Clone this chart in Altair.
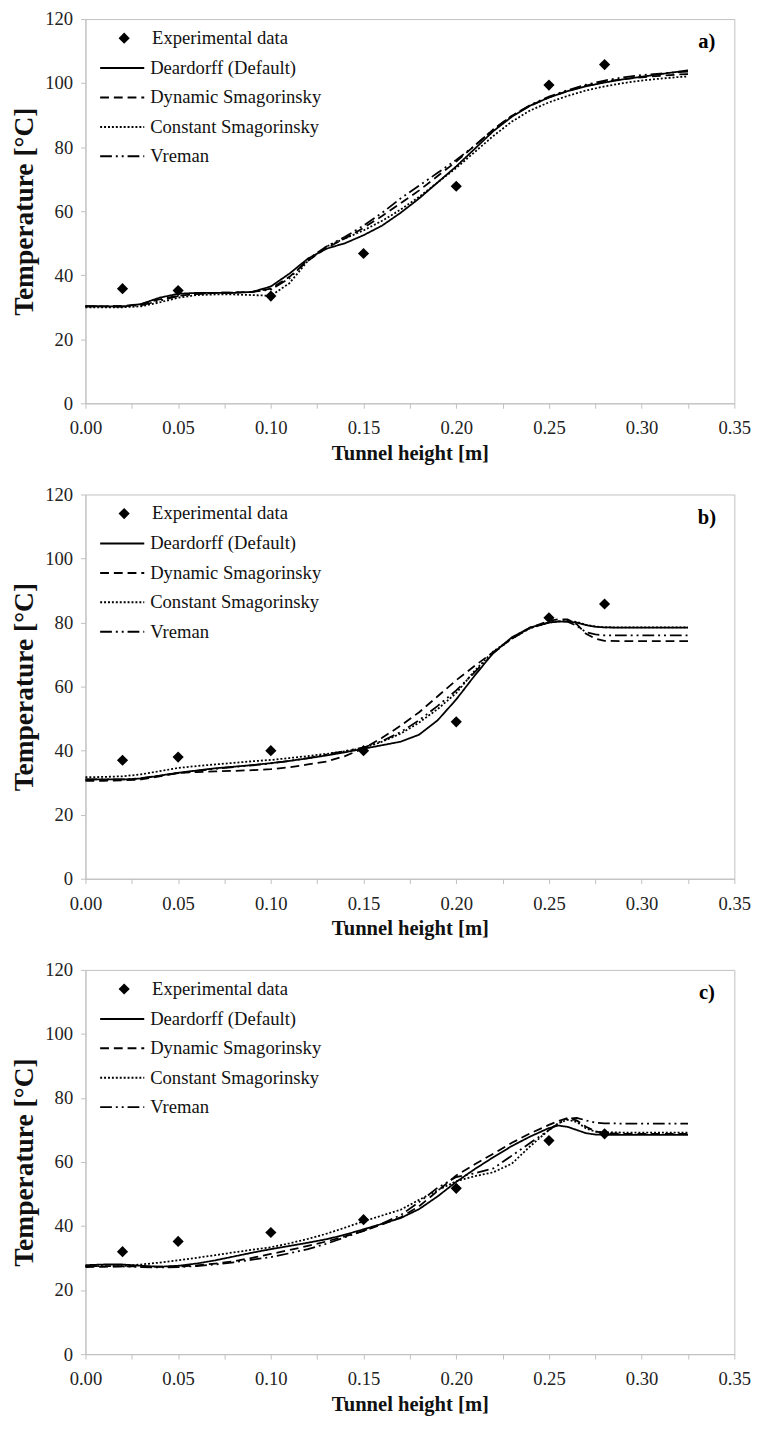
import altair as alt
import pandas as pd

MODELS = ["Deardorff (Default)", "Dynamic Smagorinsky", "Constant Smagorinsky", "Vreman"]
DASHES = [[1, 0], [9, 5], [2, 2], [12, 4, 2, 4, 2, 4]]
EXP_NAME = "Experimental data"

X_EXP = [0.02, 0.05, 0.10, 0.15, 0.20, 0.25, 0.28]
EXP_A = [35.8, 35.2, 33.5, 46.8, 67.8, 99.4, 105.8]
EXP_B = [37.0, 38.0, 40.0, 40.0, 49.0, 81.5, 85.8]
EXP_C = [32.0, 35.2, 38.0, 42.0, 51.8, 66.7, 68.8]

XA = [0, 0.01, 0.02, 0.03, 0.04, 0.05, 0.06, 0.07, 0.08, 0.09, 0.10, 0.11, 0.12, 0.13, 0.14,
      0.15, 0.16, 0.17, 0.18, 0.19, 0.20, 0.21, 0.22, 0.23, 0.24, 0.25, 0.26, 0.27, 0.28, 0.29,
      0.30, 0.31, 0.32, 0.325]
DEAR_A = [30.4, 30.3, 30.2, 31.0, 33.0, 34.2, 34.5, 34.5, 34.5, 34.8, 36.5, 40.5, 45.2, 48.3, 50.0,
          52.5, 55.5, 59.5, 64.0, 69.0, 74.0, 79.5, 85.0, 89.5, 93.0, 95.5, 97.5, 99.0, 100.2, 101.2,
          102.0, 102.8, 103.6, 104.0]
DYN_A = [30.3, 30.3, 30.4, 31.0, 32.5, 33.6, 34.2, 34.5, 34.6, 34.8, 35.8, 39.5, 44.5, 48.5, 51.5,
         54.8, 58.5, 62.5, 66.5, 71.0, 75.5, 80.5, 85.5, 89.8, 93.0, 95.5, 97.5, 99.2, 100.5, 101.2,
         101.8, 102.3, 102.7, 102.8]
CONST_A = [30.0, 30.0, 30.0, 30.3, 31.5, 33.0, 33.8, 34.0, 34.0, 33.8, 33.6, 37.5, 44.5, 49.0, 51.5,
           54.0, 57.0, 60.5, 64.5, 69.0, 73.5, 78.5, 83.5, 88.0, 91.5, 94.0, 96.0, 97.7, 99.0, 100.0,
           100.8, 101.4, 101.9, 102.1]
VRE_A = [30.3, 30.3, 30.3, 30.6, 32.0, 33.5, 34.2, 34.5, 34.6, 34.8, 35.5, 39.0, 45.0, 49.0, 52.0,
         55.5, 59.5, 64.0, 68.0, 72.0, 76.0, 80.5, 85.5, 89.8, 93.2, 95.8, 97.8, 99.5, 100.8, 101.8,
         102.5, 103.0, 103.4, 103.6]

XB = [0, 0.01, 0.02, 0.03, 0.04, 0.05, 0.06, 0.07, 0.08, 0.09, 0.10, 0.11, 0.12, 0.13, 0.14,
      0.15, 0.16, 0.17, 0.18, 0.19, 0.20, 0.21, 0.22, 0.23, 0.24, 0.25, 0.255, 0.26, 0.265, 0.27,
      0.275, 0.28, 0.29, 0.30, 0.31, 0.32, 0.325]
DEAR_B = [31.0, 31.0, 31.0, 31.3, 32.2, 33.1, 33.8, 34.5, 35.0, 35.5, 36.1, 36.8, 37.6, 38.5, 39.5,
          40.6, 41.7, 42.8, 45.0, 49.5, 56.0, 63.5, 70.5, 75.4, 78.5, 80.0, 80.3, 80.3, 80.0, 79.2,
          78.7, 78.5, 78.4, 78.4, 78.4, 78.4, 78.4]
DYN_B = [30.6, 30.6, 30.7, 31.0, 32.0, 33.0, 33.3, 33.5, 33.7, 33.9, 34.2, 34.8, 35.7, 36.6, 38.3,
         40.7, 44.0, 47.8, 52.0, 57.0, 62.0, 66.5, 70.8, 75.0, 78.5, 80.5, 81.0, 81.0, 79.5, 76.5,
         75.0, 74.3, 74.2, 74.2, 74.2, 74.2, 74.2]
CONST_B = [31.7, 31.8, 32.0, 32.6, 33.6, 34.6, 35.2, 35.7, 36.2, 36.7, 37.1, 37.7, 38.3, 39.0, 39.8,
           40.8, 42.8, 45.3, 48.8, 53.0, 58.0, 65.0, 71.0, 75.0, 78.3, 80.0, 80.4, 80.5, 80.2, 79.3,
           78.8, 78.5, 78.5, 78.5, 78.5, 78.5, 78.5]
VRE_B = [31.0, 31.0, 31.0, 31.4, 32.2, 33.0, 33.7, 34.3, 34.9, 35.4, 36.0, 36.8, 37.7, 38.8, 39.9,
         41.0, 43.0, 45.8, 49.5, 54.0, 58.8, 64.5, 70.5, 75.0, 78.3, 80.0, 80.4, 80.3, 79.0, 77.0,
         76.3, 76.0, 76.0, 76.0, 76.0, 76.0, 76.0]

XC = XB
DEAR_C = [27.8, 28.0, 28.0, 27.6, 27.3, 27.6, 28.3, 29.3, 30.5, 31.7, 32.8, 33.8, 34.8, 35.9, 37.3,
          39.0, 40.7, 42.5, 45.3, 49.3, 53.8, 57.8, 61.5, 65.0, 68.0, 70.6, 71.4, 71.0, 70.0, 69.0,
          68.6, 68.5, 68.5, 68.5, 68.5, 68.5, 68.5]
DYN_C = [27.2, 27.3, 27.4, 27.4, 27.3, 27.4, 27.7, 28.3, 29.0, 30.1, 31.3, 32.5, 33.8, 35.2, 36.8,
         38.5, 40.5, 42.7, 46.2, 51.0, 55.8, 59.3, 62.6, 66.0, 69.0, 71.6, 72.8, 73.7, 73.0, 71.0,
         69.6, 69.0, 68.8, 68.8, 68.8, 68.8, 68.8]
CONST_C = [27.5, 27.5, 27.5, 28.0, 28.6, 29.3, 30.1, 30.9, 31.8, 32.6, 33.4, 34.6, 36.0, 37.6, 39.5,
           41.5, 43.3, 45.1, 48.2, 51.2, 54.0, 55.6, 56.8, 59.5, 65.0, 70.0, 72.1, 73.2, 72.5, 70.5,
           69.5, 69.3, 69.2, 69.2, 69.2, 69.2, 69.2]
VRE_C = [27.5, 27.5, 27.4, 27.2, 27.1, 27.2, 27.5, 28.0, 28.7, 29.5, 30.3, 31.5, 32.8, 34.5, 36.5,
         38.5, 40.8, 43.4, 47.5, 52.0, 55.3, 56.5, 58.0, 62.0, 66.0, 70.0, 72.0, 73.5, 73.8, 73.0,
         72.3, 72.1, 72.0, 72.0, 72.0, 72.0, 72.0]

X_TICKS = [round(i * 0.025, 3) for i in range(15)]
Y_TICKS = list(range(0, 121, 10))
FONT = "Liberation Serif"
GRAY = "#bfbfbf"
W, H = 662, 392


def panel(tag, xs, curves, exp_y):
    rows = []
    for m, ys in zip(MODELS, curves):
        for xi, yi in zip(xs, ys):
            rows.append({"h": xi, "T": yi, "model": m})
    df = pd.DataFrame(rows)
    dfe = pd.DataFrame({"h": X_EXP, "T": exp_y, "series": [EXP_NAME] * len(X_EXP)})

    xenc = alt.X("h:Q", scale=alt.Scale(domain=[0, 0.35], nice=False, zero=False),
                 axis=alt.Axis(values=X_TICKS, title="Tunnel height [m]",
                               labelExpr="round(datum.value*40) % 2 == 0 ? format(datum.value, '.2f') : ''",
                               labelFlush=False, labelOverlap=False, labelPadding=11,
                               titlePadding=5, titleFontSize=21))
    yenc = alt.Y("T:Q", scale=alt.Scale(domain=[0, 120], nice=False),
                 axis=alt.Axis(values=Y_TICKS, title="Temperature [°C]",
                               labelExpr="datum.value % 20 == 0 ? datum.label : ''",
                               labelOverlap=False, labelPadding=8, titlePadding=6,
                               titleFontSize=28))

    lines = alt.Chart(df).mark_line(color="black", strokeWidth=1.8).encode(
        x=xenc, y=yenc,
        strokeDash=alt.StrokeDash(
            "model:N",
            scale=alt.Scale(domain=MODELS, range=DASHES),
            legend=alt.Legend(title=None, orient="none", legendX=14, legendY=35,
                              symbolType="stroke", symbolSize=2025, symbolStrokeWidth=2,
                              symbolStrokeColor="black", labelOffset=5, rowPadding=0,
                              clipHeight=30,
                              labelFont=FONT, labelFontSize=19, labelColor="#111",
                              labelLimit=400, padding=0),
        ),
    )
    points = alt.Chart(dfe).mark_point(filled=True, color="black", size=130, opacity=1).encode(
        x="h:Q", y="T:Q",
        shape=alt.Shape(
            "series:N",
            scale=alt.Scale(domain=[EXP_NAME], range=["diamond"]),
            legend=alt.Legend(title=None, orient="none", legendX=30, legendY=10,
                              symbolSize=130, symbolFillColor="black", symbolStrokeColor="black",
                              symbolStrokeWidth=0, labelOffset=19, labelFont=FONT,
                              labelFontSize=19, labelColor="#111", labelLimit=400, padding=0),
        ),
    )
    label = alt.Chart(pd.DataFrame({"t": [tag]})).mark_text(
        font=FONT, fontWeight="bold", fontSize=21, color="black", align="center", baseline="middle"
    ).encode(text="t:N", x=alt.value(634), y=alt.value(24))

    return alt.layer(lines, points, label).properties(width=W, height=H)


pa = panel("a)", XA, [DEAR_A, DYN_A, CONST_A, VRE_A], EXP_A)
pb = panel("b)", XB, [DEAR_B, DYN_B, CONST_B, VRE_B], EXP_B)
pc = panel("c)", XC, [DEAR_C, DYN_C, CONST_C, VRE_C], EXP_C)

chart = alt.vconcat(pa, pb, pc, spacing=21).resolve_scale(
    strokeDash="independent", shape="independent"
).resolve_legend(
    strokeDash="independent", shape="independent"
).properties(
    padding={"left": 3, "top": -13, "right": 0, "bottom": -2}
).configure(
    font=FONT
).configure_axis(
    labelFont=FONT, labelFontSize=19, labelColor="#222",
    titleFont=FONT, titleFontWeight="bold", titleColor="#111",
    domainColor=GRAY, tickColor=GRAY, tickSize=5, grid=False,
).configure_legend(
    labelFont=FONT
).configure_view(
    stroke=GRAY
)

chart.save("out.html", embed_options={"renderer": "svg", "actions": False})
